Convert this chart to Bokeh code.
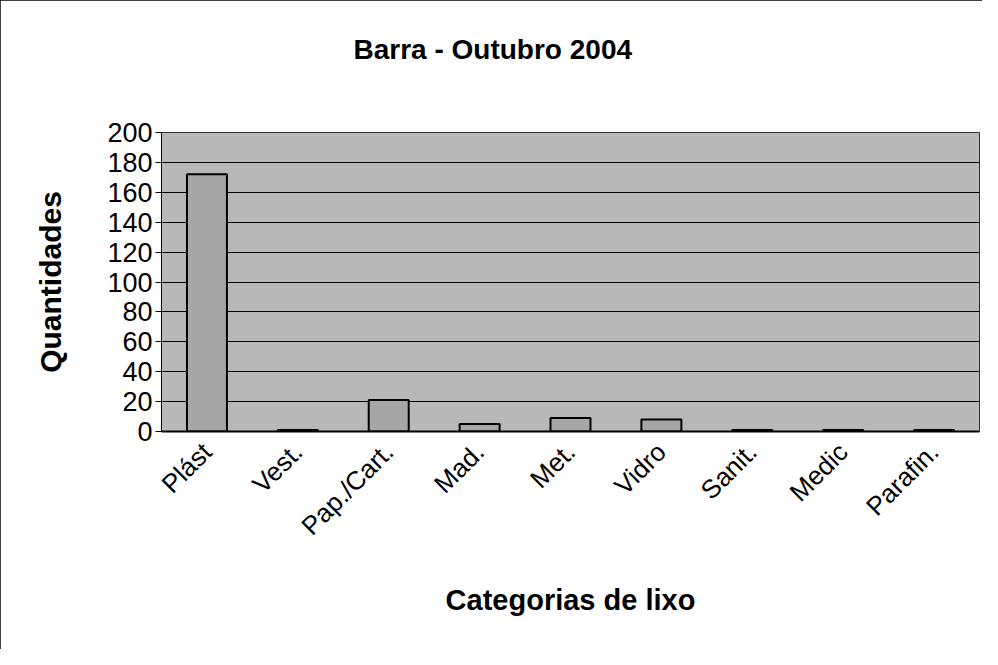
import math
from bokeh.plotting import figure
from bokeh.models import ColumnDataSource, Title
from bokeh.embed import file_html
from bokeh.resources import INLINE

categories = ["Plást", "Vest.", "Pap./Cart.", "Mad.", "Met.", "Vidro", "Sanit.", "Medic", "Parafin."]
quantidades = [172, 1, 21, 5, 9, 8, 1, 1, 1]
y_ticks = [0, 20, 40, 60, 80, 100, 120, 140, 160, 180, 200]
title_text = "Barra - Outubro 2004"

FONT = "Liberation Sans"

src = ColumnDataSource(dict(cat=categories, val=quantidades))

p = figure(
    x_range=categories, y_range=(0, 200),
    width=982, height=649,
    output_backend="svg", toolbar_location=None, tools="",
    min_border_left=161, min_border_right=3, min_border_top=132, min_border_bottom=218,
)
p.styles = {"outline": "1px solid black", "outline-offset": "-1px"}

# empty spacer titles, then the real title stacked above them
p.add_layout(Title(text=" ", text_font=FONT, text_font_size="26px"), "above")
p.add_layout(Title(text=" ", text_font=FONT, text_font_size="8px"), "above")
p.add_layout(Title(text=title_text, align="left", offset=192,
                   text_font=FONT, text_font_size="28px", text_font_style="bold",
                   text_color="black"), "above")

p.background_fill_color = "#b8b8b8"
p.border_fill_color = "white"
p.outline_line_color = "#333333"
p.outline_line_width = 1

p.vbar(x="cat", top="val", width=0.44, source=src,
       fill_color="#a6a6a6", line_color="black", line_width=2)

p.xgrid.grid_line_color = None
p.ygrid.grid_line_color = "black"
p.ygrid.grid_line_width = 1
p.ygrid.ticker = y_ticks

p.yaxis.ticker = y_ticks
p.yaxis.axis_label = "Quantidades"
p.yaxis.axis_label_text_font = FONT
p.yaxis.axis_label_text_font_size = "30px"
p.yaxis.axis_label_text_font_style = "bold"
p.yaxis.axis_label_text_color = "black"
p.yaxis.axis_label_standoff = 37
p.yaxis.major_label_text_font = FONT
p.yaxis.major_label_text_font_size = "27px"
p.yaxis.major_label_text_color = "black"
p.yaxis.major_tick_in = 0
p.yaxis.major_tick_out = 6
p.yaxis.minor_tick_line_color = None
p.yaxis.axis_line_color = "black"
p.yaxis.major_label_standoff = 3

p.xaxis.major_label_orientation = math.pi / 4
p.xaxis.major_label_text_font = FONT
p.xaxis.major_label_text_font_size = "26px"
p.xaxis.major_label_text_color = "black"
p.xaxis.major_tick_line_color = None
p.xaxis.axis_line_color = "black"
p.xaxis.axis_line_width = 2
p.xaxis.major_label_standoff = 10
p.xaxis.axis_label = "Categorias de lixo"
p.xaxis.axis_label_text_font = FONT
p.xaxis.axis_label_text_font_size = "29px"
p.xaxis.axis_label_text_font_style = "bold"
p.xaxis.axis_label_text_color = "black"
p.xaxis.axis_label_standoff = 30

open("out.html", "w").write(file_html(p, INLINE))
